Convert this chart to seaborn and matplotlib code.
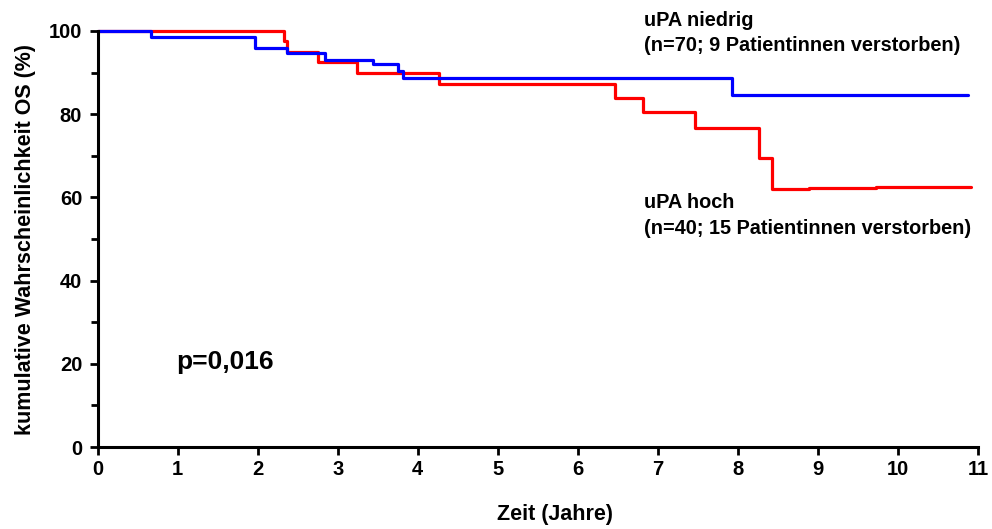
import matplotlib
matplotlib.use("Agg")
import matplotlib.pyplot as plt
from matplotlib.ticker import MultipleLocator
import seaborn as sns
import pandas as pd

# Kaplan-Meier step curves (time in years, cumulative survival in %)
zeit_niedrig = [0, 0.67, 1.97, 2.37, 2.84, 3.44, 3.76, 3.82, 7.93, 10.88]
os_niedrig = [100, 98.6, 95.8, 94.8, 93.0, 92.1, 90.5, 88.8, 84.7, 84.7]

zeit_hoch = [0, 2.33, 2.37, 2.75, 3.24, 4.26, 6.47, 6.82, 7.47, 8.26, 8.43, 8.89, 9.72, 10.91]
os_hoch = [100, 97.5, 95.0, 92.5, 90.0, 87.3, 83.8, 80.6, 76.8, 69.5, 62.0, 62.3, 62.5, 62.5]

gruppen = ["uPA hoch", "uPA niedrig"]
farben = {"uPA hoch": "#ff0000", "uPA niedrig": "#0000ff"}

x_ticks = list(range(0, 12))
y_ticks = [0, 20, 40, 60, 80, 100]

df = pd.concat([
    pd.DataFrame({"Zeit": zeit_hoch, "OS": os_hoch, "Gruppe": gruppen[0]}),
    pd.DataFrame({"Zeit": zeit_niedrig, "OS": os_niedrig, "Gruppe": gruppen[1]}),
], ignore_index=True)

sns.set_theme(style="white")
plt.rcParams["font.family"] = ["Liberation Sans", "DejaVu Sans"]
plt.rcParams["font.weight"] = "bold"
for key in ("text.color", "axes.labelcolor", "xtick.color", "ytick.color"):
    plt.rcParams[key] = "black"

fig = plt.figure(figsize=(9.92, 5.29), dpi=100)
ax = fig.add_axes([0.0983, 0.155, 0.8876, 0.7864])

sns.lineplot(data=df, x="Zeit", y="OS", hue="Gruppe", palette=farben,
             hue_order=gruppen, drawstyle="steps-post", estimator=None,
             sort=False, linewidth=2.3, legend=False, ax=ax, clip_on=False)

ax.set_xlim(0, 11)
ax.set_ylim(0, 100)
ax.set_xticks(x_ticks)
ax.set_yticks(y_ticks)
ax.yaxis.set_minor_locator(MultipleLocator(10))

for side in ("top", "right"):
    ax.spines[side].set_visible(False)
for side in ("left", "bottom"):
    ax.spines[side].set_linewidth(2.2)
    ax.spines[side].set_color("black")

ax.tick_params(axis="both", which="major", direction="out", length=6, width=2,
               color="black", labelsize=14.5, pad=5, labelcolor="black")
ax.tick_params(axis="x", which="major", pad=3.5)
ax.tick_params(axis="y", which="minor", direction="out", length=5, width=2,
               color="black", left=True)
ax.tick_params(axis="x", which="major", bottom=True)
ax.tick_params(axis="y", which="major", left=True)
for lab in ax.get_xticklabels() + ax.get_yticklabels():
    lab.set_fontweight("bold")

ax.set_xlabel("Zeit (Jahre)", fontsize=15.5, fontweight="bold")
ax.xaxis.set_label_coords(0.52, -0.137)
ax.set_ylabel("kumulative Wahrscheinlichkeit OS (%)", fontsize=15.5,
              fontweight="bold", labelpad=9)

ax.text(6.83, 99.5, "uPA niedrig\n(n=70; 9 Patientinnen verstorben)",
        fontsize=14.3, fontweight="bold", ha="left", va="center",
        linespacing=1.44, clip_on=False)
ax.text(6.83, 55.65, "uPA hoch\n(n=40; 15 Patientinnen verstorben)",
        fontsize=14.3, fontweight="bold", ha="left", va="center",
        linespacing=1.44)
ax.text(0.98, 20.5, "p=0,016", fontsize=19, fontweight="bold",
        ha="left", va="center")

fig.savefig("out.png", dpi=100)
